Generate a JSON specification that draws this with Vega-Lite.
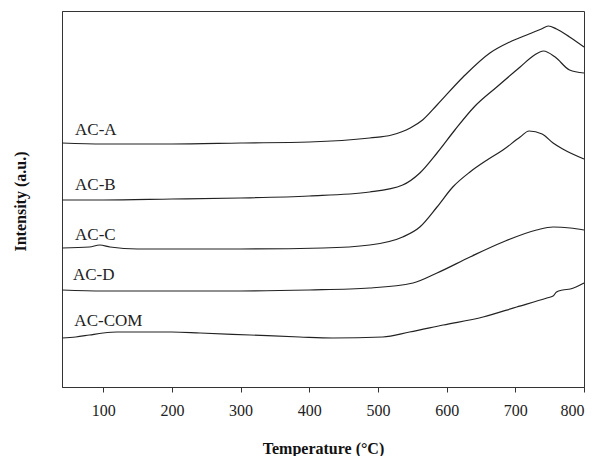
{
  "$schema": "https://vega.github.io/schema/vega-lite/v6.json",
  "width": 522,
  "height": 376,
  "autosize": "none",
  "padding": {"left": 62, "top": 11, "right": 14, "bottom": 69},
  "background": "white",
  "config": {
    "view": {"stroke": "#333", "strokeWidth": 1},
    "font": "Liberation Serif"
  },
  "datasets": {
    "curves": [
      {"s": "AC-A", "t": 40, "v": 244}, {"s": "AC-A", "t": 100, "v": 243}, {"s": "AC-A", "t": 200, "v": 243}, {"s": "AC-A", "t": 300, "v": 244}, {"s": "AC-A", "t": 400, "v": 245}, {"s": "AC-A", "t": 488, "v": 249}, {"s": "AC-A", "t": 520, "v": 252}, {"s": "AC-A", "t": 547, "v": 259}, {"s": "AC-A", "t": 565, "v": 267}, {"s": "AC-A", "t": 586, "v": 282}, {"s": "AC-A", "t": 624, "v": 310}, {"s": "AC-A", "t": 663, "v": 334}, {"s": "AC-A", "t": 692, "v": 345}, {"s": "AC-A", "t": 720, "v": 353}, {"s": "AC-A", "t": 738, "v": 358}, {"s": "AC-A", "t": 748, "v": 361}, {"s": "AC-A", "t": 760, "v": 358}, {"s": "AC-A", "t": 779, "v": 350}, {"s": "AC-A", "t": 800, "v": 340},
      {"s": "AC-B", "t": 40, "v": 187}, {"s": "AC-B", "t": 100, "v": 187}, {"s": "AC-B", "t": 200, "v": 188}, {"s": "AC-B", "t": 300, "v": 189}, {"s": "AC-B", "t": 400, "v": 191}, {"s": "AC-B", "t": 488, "v": 195}, {"s": "AC-B", "t": 536, "v": 202}, {"s": "AC-B", "t": 561, "v": 214}, {"s": "AC-B", "t": 586, "v": 234}, {"s": "AC-B", "t": 612, "v": 257}, {"s": "AC-B", "t": 640, "v": 280}, {"s": "AC-B", "t": 673, "v": 300}, {"s": "AC-B", "t": 707, "v": 320}, {"s": "AC-B", "t": 728, "v": 332}, {"s": "AC-B", "t": 741, "v": 336}, {"s": "AC-B", "t": 758, "v": 330}, {"s": "AC-B", "t": 779, "v": 317}, {"s": "AC-B", "t": 800, "v": 314},
      {"s": "AC-C", "t": 40, "v": 139}, {"s": "AC-C", "t": 80, "v": 140}, {"s": "AC-C", "t": 95, "v": 142}, {"s": "AC-C", "t": 110, "v": 140}, {"s": "AC-C", "t": 150, "v": 138}, {"s": "AC-C", "t": 300, "v": 138}, {"s": "AC-C", "t": 420, "v": 139}, {"s": "AC-C", "t": 488, "v": 142}, {"s": "AC-C", "t": 536, "v": 150}, {"s": "AC-C", "t": 561, "v": 160}, {"s": "AC-C", "t": 586, "v": 180}, {"s": "AC-C", "t": 609, "v": 200}, {"s": "AC-C", "t": 634, "v": 215}, {"s": "AC-C", "t": 659, "v": 227}, {"s": "AC-C", "t": 682, "v": 237}, {"s": "AC-C", "t": 707, "v": 250}, {"s": "AC-C", "t": 720, "v": 256}, {"s": "AC-C", "t": 739, "v": 253}, {"s": "AC-C", "t": 755, "v": 244}, {"s": "AC-C", "t": 769, "v": 238}, {"s": "AC-C", "t": 800, "v": 228},
      {"s": "AC-D", "t": 40, "v": 97}, {"s": "AC-D", "t": 100, "v": 96}, {"s": "AC-D", "t": 200, "v": 96}, {"s": "AC-D", "t": 300, "v": 96}, {"s": "AC-D", "t": 400, "v": 97}, {"s": "AC-D", "t": 488, "v": 99}, {"s": "AC-D", "t": 551, "v": 104}, {"s": "AC-D", "t": 586, "v": 114}, {"s": "AC-D", "t": 634, "v": 130}, {"s": "AC-D", "t": 682, "v": 145}, {"s": "AC-D", "t": 731, "v": 157}, {"s": "AC-D", "t": 755, "v": 160}, {"s": "AC-D", "t": 780, "v": 159}, {"s": "AC-D", "t": 800, "v": 157},
      {"s": "AC-COM", "t": 40, "v": 49}, {"s": "AC-COM", "t": 60, "v": 50}, {"s": "AC-COM", "t": 80, "v": 52}, {"s": "AC-COM", "t": 100, "v": 54}, {"s": "AC-COM", "t": 120, "v": 55}, {"s": "AC-COM", "t": 143, "v": 55}, {"s": "AC-COM", "t": 200, "v": 55}, {"s": "AC-COM", "t": 241, "v": 54}, {"s": "AC-COM", "t": 314, "v": 52}, {"s": "AC-COM", "t": 386, "v": 50}, {"s": "AC-COM", "t": 434, "v": 49}, {"s": "AC-COM", "t": 507, "v": 50}, {"s": "AC-COM", "t": 546, "v": 55}, {"s": "AC-COM", "t": 595, "v": 62}, {"s": "AC-COM", "t": 653, "v": 70}, {"s": "AC-COM", "t": 702, "v": 80}, {"s": "AC-COM", "t": 746, "v": 89}, {"s": "AC-COM", "t": 755, "v": 91}, {"s": "AC-COM", "t": 760, "v": 95}, {"s": "AC-COM", "t": 769, "v": 97}, {"s": "AC-COM", "t": 780, "v": 98}, {"s": "AC-COM", "t": 800, "v": 104}
    ],
    "labels": [
      {"s": "AC-A", "t": 59, "v": 257},
      {"s": "AC-B", "t": 59, "v": 202},
      {"s": "AC-C", "t": 59, "v": 152},
      {"s": "AC-D", "t": 56, "v": 112},
      {"s": "AC-COM", "t": 58, "v": 66}
    ]
  },
  "layer": [
    {
      "data": {"name": "curves"},
      "mark": {"type": "line", "color": "#222", "strokeWidth": 1.2, "interpolate": "monotone"},
      "encoding": {
        "x": {
          "field": "t", "type": "quantitative",
          "scale": {"domain": [40, 800], "nice": false, "zero": false},
          "axis": {
            "title": "Temperature (°C)",
            "values": [100, 200, 300, 400, 500, 600, 700, 800],
            "grid": false,
            "domainColor": "#333",
            "tickColor": "#333",
            "tickSize": 5,
            "labelFont": "Liberation Serif",
            "labelFontSize": 16,
            "labelColor": "#222",
            "labelPadding": 10,
            "titleFont": "Liberation Serif",
            "titleFontSize": 16,
            "titleFontWeight": "bold",
            "titleColor": "#111",
            "titleBaseline": "alphabetic",
            "titleY": 66
          }
        },
        "y": {
          "field": "v", "type": "quantitative",
          "scale": {"domain": [0, 376], "nice": false},
          "axis": {
            "title": "Intensity (a.u.)",
            "labels": false,
            "ticks": false,
            "grid": false,
            "domainColor": "#333",
            "titleFont": "Liberation Serif",
            "titleFontSize": 16,
            "titleFontWeight": "bold",
            "titleColor": "#111",
            "titleX": -42,
            "titleY": 190,
            "titleAlign": "center",
            "titleBaseline": "middle"
          }
        },
        "detail": {"field": "s"}
      }
    },
    {
      "data": {"name": "labels"},
      "mark": {"type": "text", "align": "left", "baseline": "middle", "font": "Liberation Serif", "fontSize": 17, "color": "#222"},
      "encoding": {
        "x": {"field": "t", "type": "quantitative"},
        "y": {"field": "v", "type": "quantitative"},
        "text": {"field": "s"}
      }
    }
  ]
}
